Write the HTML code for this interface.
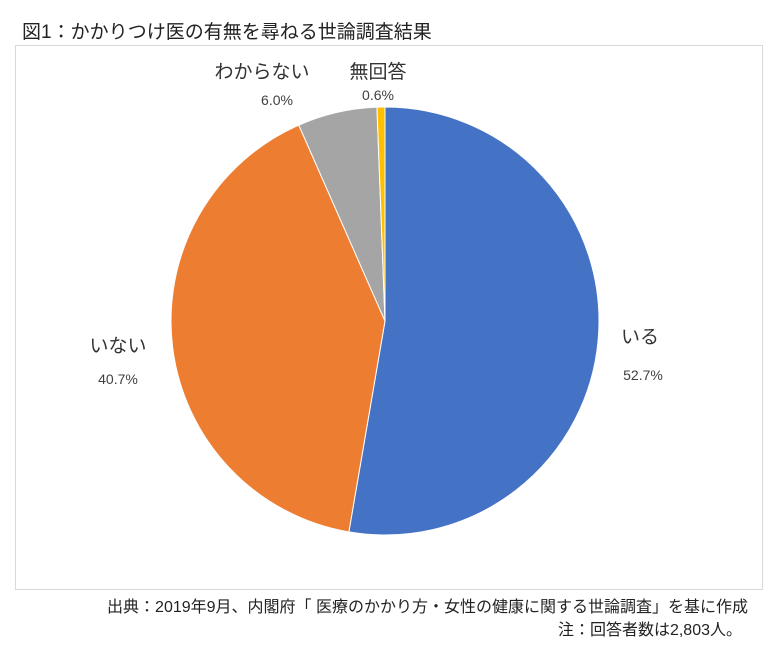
<!DOCTYPE html>
<html><head><meta charset="utf-8"><style>
body{margin:0;width:777px;height:651px;background:#fff;font-family:"Liberation Sans","Noto Sans CJK JP",sans-serif;overflow:hidden}
</style></head><body>
<svg width="777" height="651" style="position:absolute;left:0;top:0">
<text x="22" y="38" font-size="19" fill="#222">図1：かかりつけ医の有無を尋ねる世論調査結果</text>
<rect x="15.5" y="45.5" width="747" height="544" fill="#fff" stroke="#d9d9d9"/>
<g id="slices"></g>
<g id="labels" font-size="14" fill="#404040"></g>
<text x="748" y="612" text-anchor="end" font-size="16" fill="#222">出典：2019年9月、内閣府「 医療のかかり方・女性の健康に関する世論調査」を基に作成</text>
<text x="742" y="635" text-anchor="end" font-size="16" fill="#222">注：回答者数は2,803人。</text>
</svg>
<script>
const categories=["いる","いない","わからない","無回答"];
const values=[52.7,40.7,6.0,0.6];
const valueLabels=["52.7%","40.7%","6.0%","0.6%"];
const colors=["#4472C4","#ED7D31","#A5A5A5","#FFC000"];
const cx=385,cy=321,r=214;
const ns="http://www.w3.org/2000/svg";
const g=document.getElementById("slices"),lg=document.getElementById("labels");
const total=values.reduce((a,b)=>a+b,0);
const pt=(a,rr)=>[cx+rr*Math.sin(a),cy-rr*Math.cos(a)];
let acc=0;
const labelPos=[[640,343,380],[118,352,384],[262,78,105],[378,78,100]];
values.forEach((v,i)=>{
  const a0=acc/total*2*Math.PI;acc+=v;const a1=acc/total*2*Math.PI;
  const p0=pt(a0,r),p1=pt(a1,r);
  const p=document.createElementNS(ns,"path");
  p.setAttribute("d",`M${cx},${cy}L${p0[0]},${p0[1]}A${r},${r} 0 ${a1-a0>Math.PI?1:0} 1 ${p1[0]},${p1[1]}Z`);
  p.setAttribute("fill",colors[i]);p.setAttribute("stroke","#fff");p.setAttribute("stroke-width","1");
  
  
  g.appendChild(p);
  const lp=labelPos[i];
  const t=document.createElementNS(ns,"text");
  t.setAttribute("x",lp[0]);t.setAttribute("y",lp[1]);t.setAttribute("text-anchor","middle");t.setAttribute("font-size","19");t.setAttribute("fill","#333");
  t.textContent=categories[i];
  
  
  lg.appendChild(t);
  const t2=document.createElementNS(ns,"text");
  t2.setAttribute("x",lp[0]+(i==2?15:i==0?3:0));t2.setAttribute("y",lp[2]);t2.setAttribute("text-anchor","middle");
  t2.textContent=valueLabels[i];
  
  
  lg.appendChild(t2);
});
</script>
</body></html>
